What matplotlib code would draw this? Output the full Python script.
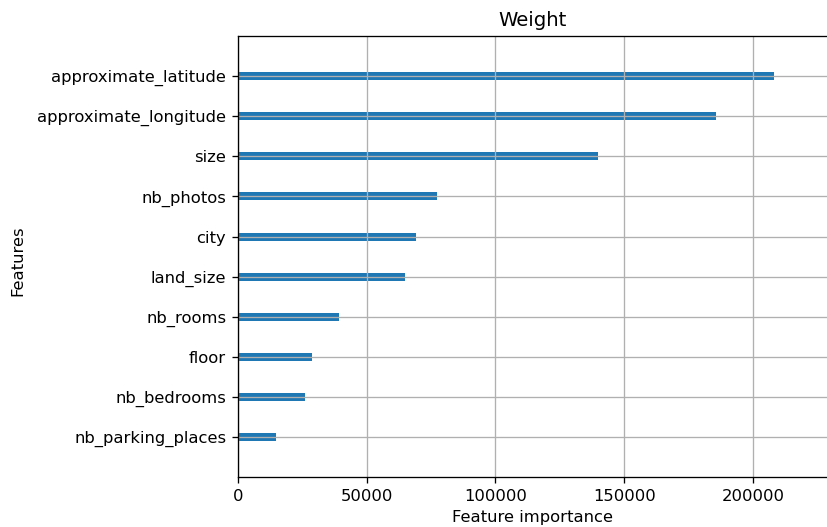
import matplotlib
matplotlib.use("Agg")
import matplotlib.pyplot as plt
import numpy as np

# Feature importance values (sorted ascending, bottom to top)
features = [
    "nb_parking_places",
    "nb_bedrooms",
    "floor",
    "nb_rooms",
    "land_size",
    "city",
    "nb_photos",
    "size",
    "approximate_longitude",
    "approximate_latitude",
]
importance = [15000, 26100, 28850, 39500, 64950, 69100, 77400, 139900, 185600, 208200]

W, H, DPI = 827, 527, 118
fig = plt.figure(figsize=((W + 0.001) / DPI, (H + 0.001) / DPI), dpi=DPI)
ax = fig.add_axes([237.7 / W, 49.7 / H, 590.0 / W, 441.3 / H])

ypos = np.arange(len(features))
ax.barh(ypos, importance, height=0.2, align="center", color="#1f77b4")
ax.set_yticks(ypos)
ax.set_yticklabels(features)

ax.set_xlim(0, max(importance) * 1.1)
ax.set_ylim(-1, len(features))
ax.grid(True)

ax.set_title("Weight")
ax.set_xlabel("Feature importance")
ax.set_ylabel("Features")
ax.yaxis.set_label_coords((25.0 - 237.7) / 590.0, 0.49)

fig.savefig("out.png", dpi=DPI)
